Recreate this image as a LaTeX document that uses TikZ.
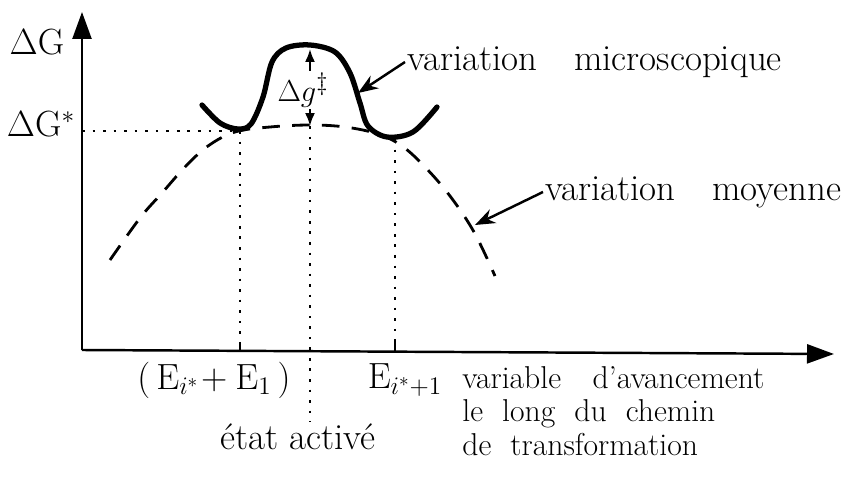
\documentclass[tikz,border=0pt]{standalone}
\usetikzlibrary{arrows.meta,positioning}

\begin{document}
\begin{tikzpicture}[
    x=0.02cm, y=-0.02cm,
    every node/.style={font=\fontsize{21}{25}\selectfont, inner sep=1pt},
    axis/.style={line width=1.4pt, -{Triangle[length=5.4mm,width=3.8mm]}},
    micro/.style={line width=3pt, line cap=round},
    moyenne/.style={line width=1.6pt, dash pattern=on 10pt off 7pt},
    guide/.style={line width=1.3pt, dash pattern=on 1.5pt off 4.5pt},
    pointer/.style={line width=1.4pt, -{Stealth[length=4mm,width=3mm]}},
    dblarrow/.style={line width=1.2pt, -{Latex[length=2.6mm,width=2mm]}},
    tickmark/.style={line width=1pt},
    legend/.style={anchor=north west, inner sep=0pt, align=left,
      font={\fontsize{18}{19}\selectfont}}
  ]
    \useasboundingbox (0,0) rectangle (846,483);

    % Axes
    \coordinate (origin) at (82,350);
    \coordinate (ytip) at (82,12);
    \coordinate (xtip) at (834,354);
    \draw[axis] (origin) -- (ytip);
    \draw[axis] (origin) -- (xtip);
    \node (dG) at (37,42) {$\Delta\mathrm{G}$};
    \node (dGstar) at (41,124) {$\Delta\mathrm{G}^{*}$};

    % Key points
    \coordinate (leftmin) at (240,131);
    \coordinate (saddle) at (310,126);
    \coordinate (rightmin) at (395,139);
    \coordinate (bumptop) at (310,49);

    % Mean variation (dashed)
    \draw[moyenne] plot[smooth, tension=0.6] coordinates {(110,260) (140,218) (162,193) (185,167)
      (208,146) (235,132) (270,127) (310,125) (345,127) (378,134) (402,146) (425,167)
      (450,196) (474,232) (495,276)};

    % Microscopic variation
    \draw[micro] plot[smooth, tension=0.55] coordinates {(202,105) (220,123) (238,129) (251,124)
      (263,97) (272,62) (286,48) (310,45) (335,52) (350,73) (360,103) (368,126) (387,137)
      (413,132) (437,107)};

    % Guides
    \draw[guide] (origin |- leftmin) -- (leftmin);
    \draw[guide] (leftmin) -- (leftmin |- origin);
    \draw[guide] (rightmin) -- (rightmin |- origin);
    \draw[tickmark] (leftmin |- origin) -- ++(0,-8);
    \draw[tickmark] (rightmin |- origin) -- ++(0,-8);

    % Activation barrier
    \node[font=\fontsize{19}{21}\selectfont] (dg) at (303,90) {$\Delta g^{\ddagger}$};
    \draw[dblarrow] (dg.north -| bumptop) -- (bumptop);
    \draw[dblarrow] (dg.south -| saddle) -- (saddle);

    % Axis labels
    \node (Ei) at (214,380) {$(\,\mathrm{E}_{i^*}\!+\mathrm{E}_1\,)$};
    \node (Eip) at (405,380) {$\mathrm{E}_{i^*+1}$};
    \node (etat) at (298,437) {état activé};
    \draw[guide] (saddle) -- (saddle |- etat.north);

    \node[legend] (avance) at (462,366) {variable\quad d'avancement\\
      le\ \ long\ \ du\ \ chemin\\de\ \ transformation};

    % Pointers
    \node[anchor=west] (microlbl) at (405,62) {variation\quad microscopique};
    \coordinate (micropt) at (358,93);
    \draw[pointer] (microlbl.west) -- (micropt);

    \node[anchor=west] (moylbl) at (543,192) {variation\quad moyenne};
    \coordinate (moypt) at (475,225);
    \draw[pointer] (moylbl.west) -- (moypt);

  \end{tikzpicture}
\end{document}
